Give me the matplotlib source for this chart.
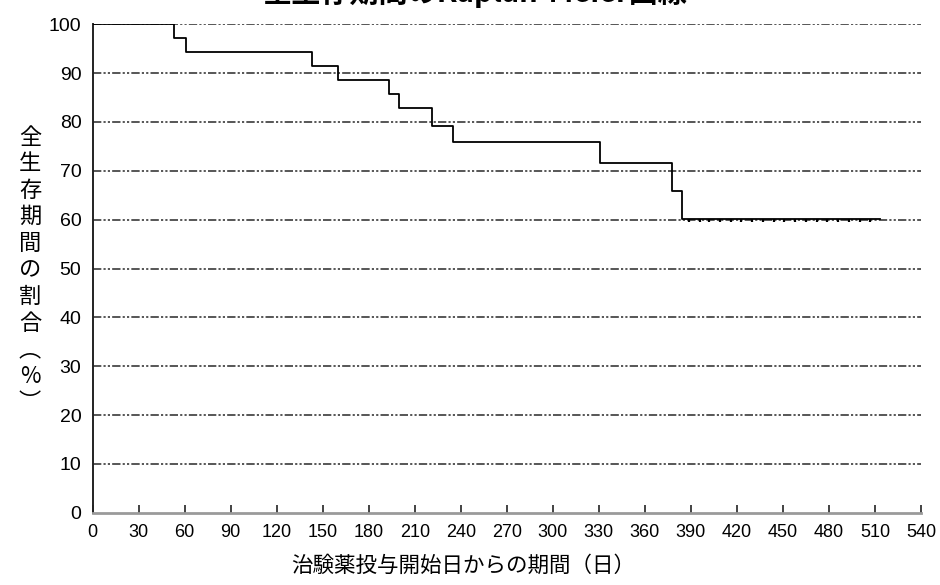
import matplotlib
matplotlib.use("Agg")
import matplotlib.pyplot as plt
from matplotlib import font_manager

# Kaplan-Meier overall survival step data
event_days = [0, 53, 61, 143, 160, 193, 200, 221, 235, 331, 378, 384]
survival_pct = [100, 97.1, 94.3, 91.4, 88.6, 85.7, 82.9, 79.2, 76.0, 71.5, 65.9, 60.1]
last_followup_day = 513
censor_days = [389, 396, 402, 409, 416, 423, 430, 437, 444, 451, 458, 465,
               472, 479, 486, 493, 500, 507]

x_ticks = list(range(0, 541, 30))
y_ticks = list(range(0, 101, 10))

title_text = "全生存期間のKaplan-Meier曲線"
x_label = "治験薬投与開始日からの期間（日）"
y_label = "全生存期間の割合︵%︶"

cjk = ["Noto Sans CJK JP", "DejaVu Sans"]
names = {f.name for f in font_manager.fontManager.ttflist}
narrow = "Liberation Sans Narrow" if "Liberation Sans Narrow" in names else "Liberation Sans"

fig = plt.figure(figsize=(9.4, 5.85), dpi=100)
ax = fig.add_axes([92.5 / 940, 1 - 512.7 / 585, (921 - 92.5) / 940, (512.7 - 24.3) / 585])

# dash-dot-dot horizontal reference lines
for y in y_ticks[1:]:
    ax.axhline(y, color="#3a3a3a", lw=1.2, dashes=(5, 1.3, 1.3, 1.3, 1.3, 1.3), zorder=1)

xs = event_days + [last_followup_day]
ys = survival_pct + [survival_pct[-1]]
ax.step(xs, ys, where="post", color="black", lw=1.3, zorder=3)
ax.plot(censor_days, [survival_pct[-1]] * len(censor_days), linestyle="none",
        marker=3, markersize=2.2, mew=1.6, color="black", zorder=3)

ax.set_xlim(0, 540)
ax.set_ylim(0, 100)
ax.set_xticks(x_ticks)
ax.set_yticks(y_ticks)
ax.set_xticklabels([str(v) for v in x_ticks], family=narrow,
                   fontsize=14.5 if narrow != "Liberation Sans" else 13)
ax.set_yticklabels([str(v) for v in y_ticks], family="Liberation Sans", fontsize=14)

for side in ("top", "right"):
    ax.spines[side].set_visible(False)
ax.spines["left"].set_color("#222222")
ax.spines["left"].set_linewidth(1.4)
ax.spines["bottom"].set_color("#9a9a9a")
ax.spines["bottom"].set_linewidth(2.0)

ax.tick_params(axis="x", direction="in", length=6, width=1.2, color="#222222", pad=8)
ax.tick_params(axis="y", length=0, pad=8)

fig.text(463 / 940, 1 - 566 / 585, x_label, ha="center", va="center",
         family=cjk, fontsize=15.5)
fig.text(30 / 940, 1 - 270 / 585, "\n".join(y_label), ha="center", va="center",
         family=cjk, fontsize=16, linespacing=1.2)
fig.text(475 / 940, 1 - 2 / 585, title_text, ha="center", va="baseline",
         family=cjk, fontsize=21, fontweight="bold")

fig.savefig("out.png", dpi=100)
